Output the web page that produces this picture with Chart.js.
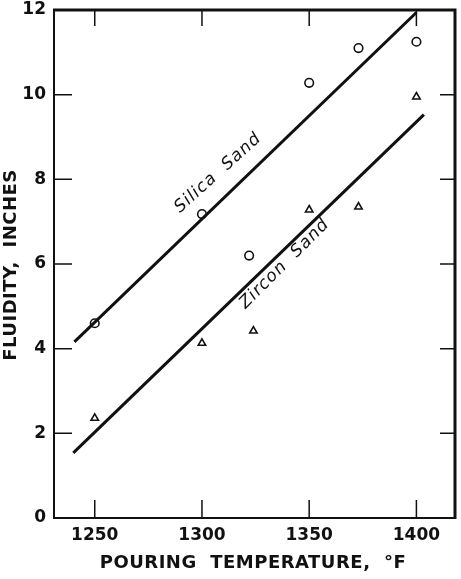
<!DOCTYPE html>
<html>
<head>
<meta charset="utf-8">
<script src="https://cdn.jsdelivr.net/npm/chart.js@4.4.1/dist/chart.umd.min.js"></script>
<style>
  html, body { margin: 0; padding: 0; background: #fff; }
  #wrap { width: 461px; height: 579px; position: relative; }
</style>
</head>
<body>
<div id="wrap"><canvas id="chart"></canvas></div>
<script>
// measured points, silica sand (circles) and zircon sand (triangles)
const silicaTemp = [1250, 1300, 1322, 1350, 1373, 1400];
const silicaFluidity = [4.6, 7.18, 6.2, 10.28, 11.1, 11.25];
const zirconTemp = [1250, 1300, 1324, 1350, 1373, 1400];
const zirconFluidity = [2.36, 4.13, 4.42, 7.28, 7.35, 9.95];

// drawn trend lines (end points)
const silicaLineTemp = [1240.5, 1400];
const silicaLineFluidity = [4.16, 11.94];
const zirconLineTemp = [1240, 1403.5];
const zirconLineFluidity = [1.54, 9.53];

const xTicks = [1250, 1300, 1350, 1400];
const yTicks = [0, 2, 4, 6, 8, 10, 12];

const xTitle = 'POURING  TEMPERATURE,  °F';
const yTitle = 'FLUIDITY,  INCHES';
const labels = [
  { text: 'Silica  Sand', x: 1307.5, y: 8.15, angle: -42 },
  { text: 'Zircon  Sand', x: 1338.5, y: 6.0, angle: -45 }
];

const FONT = '"DejaVu Sans", sans-serif';
const INK = '#111';

function pairs(xs, ys) {
  return xs.map((x, i) => ({ x: x, y: ys[i] }));
}

// frame, inward ticks, axis titles and curve labels
const paperPlugin = {
  id: 'paper',
  afterDraw(chart) {
    const ctx = chart.ctx;
    const a = chart.chartArea;
    const xs = chart.scales.x;
    const ys = chart.scales.y;
    ctx.save();
    ctx.strokeStyle = INK;
    ctx.lineCap = 'butt';

    ctx.lineWidth = 2;
    ctx.beginPath();
    ctx.moveTo(a.left, a.top);
    ctx.lineTo(a.left, a.bottom);
    ctx.lineTo(a.right, a.bottom);
    ctx.stroke();
    ctx.lineWidth = 3;
    ctx.beginPath();
    ctx.moveTo(a.left - 1, a.top);
    ctx.lineTo(a.right, a.top);
    ctx.lineTo(a.right, a.bottom + 1);
    ctx.stroke();

    ctx.lineWidth = 1.5;
    ctx.beginPath();
    xTicks.forEach(v => {
      const px = xs.getPixelForValue(v);
      ctx.moveTo(px, a.bottom);
      ctx.lineTo(px, a.bottom - 18);
      ctx.moveTo(px, a.top);
      ctx.lineTo(px, a.top + 16);
    });
    yTicks.slice(1, -1).forEach(v => {
      const py = ys.getPixelForValue(v);
      ctx.moveTo(a.left, py);
      ctx.lineTo(a.left + 18, py);
      ctx.moveTo(a.right, py);
      ctx.lineTo(a.right - 15, py);
    });
    ctx.stroke();

    ctx.fillStyle = INK;
    ctx.letterSpacing = '0.5px';
    ctx.font = 'bold 18px ' + FONT;
    ctx.textAlign = 'center';
    ctx.textBaseline = 'middle';
    ctx.fillText(xTitle, 253, 563);
    ctx.save();
    ctx.translate(11, 265);
    ctx.rotate(-Math.PI / 2);
    ctx.fillText(yTitle, 0, 0);
    ctx.restore();

    ctx.font = 'italic 17px ' + FONT;
    ctx.letterSpacing = '1px';
    labels.forEach(l => {
      ctx.save();
      ctx.translate(xs.getPixelForValue(l.x), ys.getPixelForValue(l.y));
      ctx.rotate(l.angle * Math.PI / 180);
      ctx.fillText(l.text, 0, 0);
      ctx.restore();
    });
    ctx.restore();
  }
};

const lineStyle = {
  type: 'line',
  borderColor: INK,
  borderWidth: 3,
  pointRadius: 0,
  fill: false,
  tension: 0
};
const markStyle = {
  type: 'scatter',
  borderColor: INK,
  backgroundColor: '#fff',
  borderWidth: 1.6,
  pointRadius: 4.3
};

new Chart(document.getElementById('chart'), {
  data: {
    datasets: [
      Object.assign({ label: 'Silica Sand fit', data: pairs(silicaLineTemp, silicaLineFluidity) }, lineStyle),
      Object.assign({ label: 'Zircon Sand fit', data: pairs(zirconLineTemp, zirconLineFluidity) }, lineStyle),
      Object.assign({ label: 'Silica Sand', data: pairs(silicaTemp, silicaFluidity), pointStyle: 'circle' }, markStyle),
      Object.assign({ label: 'Zircon Sand', data: pairs(zirconTemp, zirconFluidity), pointStyle: 'triangle' }, markStyle)
    ]
  },
  options: {
    responsive: true,
    maintainAspectRatio: false,
    animation: false,
    layout: { padding: { top: 10, right: 6, left: 0, bottom: 0 } },
    plugins: {
      legend: { display: false },
      tooltip: { enabled: false }
    },
    scales: {
      x: {
        type: 'linear',
        min: 1231,
        max: 1418,
        grid: { display: false, drawTicks: false },
        border: { display: false },
        afterBuildTicks: s => { s.ticks = xTicks.map(v => ({ value: v })); },
        afterFit: s => { s.height = 61; s.paddingLeft = 0; s.paddingRight = 0; },
        ticks: {
          padding: 7,
          color: INK,
          font: { family: FONT, size: 17, weight: 'bold' },
          callback: v => String(v)
        }
      },
      y: {
        type: 'linear',
        min: 0,
        max: 12,
        grid: { display: false, drawTicks: false },
        border: { display: false },
        afterBuildTicks: s => { s.ticks = yTicks.map(v => ({ value: v })); },
        afterFit: s => { s.width = 54; s.paddingTop = 0; s.paddingBottom = 0; },
        ticks: {
          padding: 8,
          color: INK,
          font: { family: FONT, size: 17, weight: 'bold' },
          callback: v => String(v)
        }
      }
    }
  },
  plugins: [paperPlugin]
});
</script>
</body>
</html>
